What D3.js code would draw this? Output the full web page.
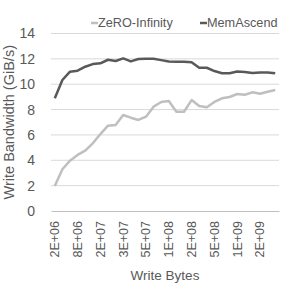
<!DOCTYPE html>
<html>
<head>
<meta charset="utf-8">
<script src="https://cdn.jsdelivr.net/npm/d3@7"></script>
<style>
  body { margin: 0; background: #fff; }
  text { font-family: "Liberation Sans", sans-serif; fill: #595959; }
</style>
</head>
<body>
<div id="chart"></div>
<script>
// x axis: 30 write sizes, label shown on every 3rd one
var tickLabels = ["2E+06", "8E+06", "2E+07", "3E+07", "5E+07", "1E+08", "2E+08", "5E+08", "1E+09", "2E+09"];
var labelEvery = 3;

var zeroInf = [1.97, 3.29, 3.97, 4.42, 4.76, 5.34, 6.07, 6.73, 6.78, 7.57,
               7.36, 7.18, 7.44, 8.23, 8.6, 8.67, 7.83, 7.83, 8.75, 8.28,
               8.18, 8.6, 8.89, 8.99, 9.23, 9.17, 9.36, 9.25, 9.41, 9.54];
var memAscend = [8.89, 10.33, 10.99, 11.07, 11.38, 11.59, 11.65, 11.93, 11.83, 12.04,
                 11.8, 11.99, 12.0, 12.0, 11.9, 11.8, 11.78, 11.78, 11.73, 11.3,
                 11.3, 11.04, 10.86, 10.86, 11.0, 10.96, 10.88, 10.93, 10.93, 10.86];
var yTicks = [0, 2, 4, 6, 8, 10, 12, 14];

var W = 282, H = 288;
var m = {left: 51, right: 3, top: 33.5, bottom: 77};

var svg = d3.select("#chart").append("svg")
  .attr("width", W).attr("height", H);

var x = d3.scaleBand()
  .domain(d3.range(zeroInf.length))
  .range([m.left, W - m.right]);

var y = d3.scaleLinear()
  .domain([0, 14])
  .range([H - m.bottom, m.top]);

// gridlines
svg.append("g").selectAll("line")
  .data(yTicks.filter(function(d) { return d > 0; }))
  .join("line")
  .attr("x1", m.left).attr("x2", W - m.right)
  .attr("y1", function(d) { return y(d); })
  .attr("y2", function(d) { return y(d); })
  .attr("stroke", "#d9d9d9").attr("stroke-width", 1);

// y axis labels
var yAxis = svg.append("g")
  .attr("transform", "translate(" + m.left + ",0)")
  .call(d3.axisLeft(y).tickValues(yTicks).tickSize(0).tickPadding(16));
yAxis.select(".domain").remove();
yAxis.selectAll("text")
  .attr("font-size", 14).attr("fill", "#595959")
  .attr("font-family", "Liberation Sans, sans-serif");

// x axis
var xAxis = svg.append("g")
  .attr("transform", "translate(0," + y(0) + ")")
  .call(d3.axisBottom(x)
    .tickValues(d3.range(0, zeroInf.length, labelEvery))
    .tickFormat(function(d) { return tickLabels[d / labelEvery]; })
    .tickSize(0));
xAxis.select(".domain").attr("stroke", "#bfbfbf");
xAxis.selectAll("text")
  .attr("font-size", 12.5).attr("fill", "#595959")
  .attr("font-family", "Liberation Sans Narrow, Liberation Sans, sans-serif")
  .attr("transform", "rotate(-90)")
  .attr("text-anchor", "end")
  .attr("x", -10).attr("y", 0).attr("dy", "0.35em");

var line = d3.line()
  .x(function(d, i) { return x(i) + x.bandwidth() / 2; })
  .y(function(d) { return y(d); });

svg.append("path").datum(zeroInf)
  .attr("d", line).attr("fill", "none")
  .attr("stroke", "#bfbfbf").attr("stroke-width", 2.5)
  .attr("stroke-linejoin", "round");

svg.append("path").datum(memAscend)
  .attr("d", line).attr("fill", "none")
  .attr("stroke", "#595959").attr("stroke-width", 2.5)
  .attr("stroke-linejoin", "round");

// legend
var legend = [{name: "ZeRO-Infinity", color: "#bfbfbf", x: 91},
              {name: "MemAscend", color: "#595959", x: 200}];
var lg = svg.append("g").selectAll("g").data(legend).join("g")
  .attr("transform", function(d) { return "translate(" + d.x + ",23)"; });
lg.append("line").attr("x1", 0).attr("x2", 7)
  .attr("stroke", function(d) { return d.color; }).attr("stroke-width", 2.5);
lg.append("text").attr("x", 7).attr("dy", "0.35em")
  .attr("font-size", 12.7).text(function(d) { return d.name; });

// axis titles
svg.append("text")
  .attr("x", (m.left + W - m.right) / 2).attr("y", 280)
  .attr("text-anchor", "middle").attr("font-size", 13.5)
  .text("Write Bytes");

svg.append("text")
  .attr("transform", "translate(14," + (y(0) + y(14)) / 2 + ") rotate(-90)")
  .attr("text-anchor", "middle").attr("font-size", 14.5)
  .text("Write Bandwidth (GiB/s)");
</script>
</body>
</html>
